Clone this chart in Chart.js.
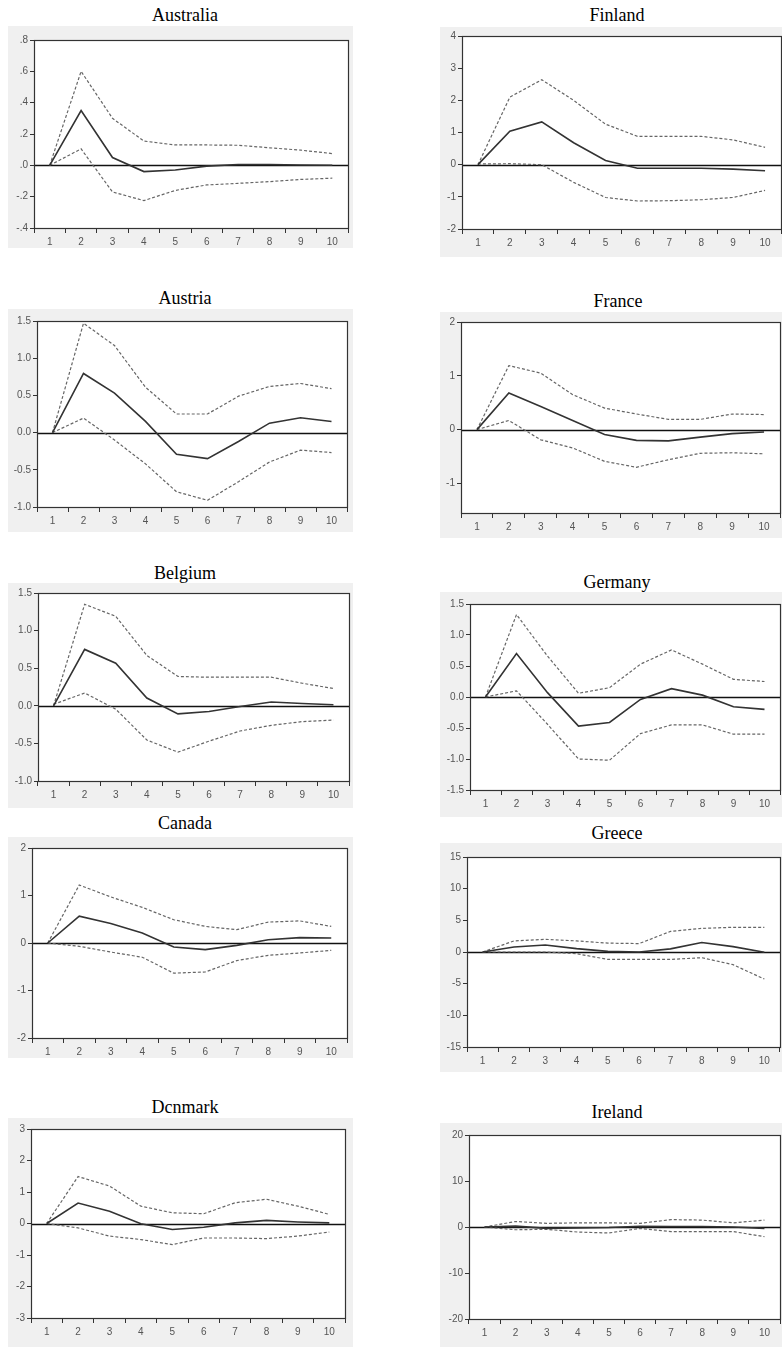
<!DOCTYPE html>
<html>
<head>
<meta charset="utf-8">
<script src="https://cdn.jsdelivr.net/npm/chart.js@4.4.1/dist/chart.umd.min.js"></script>
<style>
  body { margin: 0; background: #fff; width: 782px; height: 1347px; position: relative; overflow: hidden; }
  .title { position: absolute; width: 240px; margin-left: -120px; text-align: center; font-weight: normal;
           font-family: "Liberation Serif", "Times New Roman", serif; font-size: 18px; color: #000; line-height: 20px; }
  canvas { position: absolute; background: #f0f0f0; }
</style>
</head>
<body>
<script>
// horizon (periods after the shock)
const periods = ['1', '2', '3', '4', '5', '6', '7', '8', '9', '10']

// response / upper band / lower band
const australiaIrf   = [0, 0.35, 0.05, -0.04, -0.03, -0.005, 0.005, 0.005, 0.002, 0.001]
const australiaUpper = [0, 0.60, 0.30, 0.155, 0.13, 0.13, 0.128, 0.112, 0.097, 0.075]
const australiaLower = [0, 0.105, -0.17, -0.225, -0.16, -0.125, -0.115, -0.104, -0.09, -0.082]

const finlandIrf   = [0, 1.04, 1.33, 0.68, 0.13, -0.11, -0.11, -0.11, -0.14, -0.19]
const finlandUpper = [0, 2.1, 2.64, 2.0, 1.26, 0.88, 0.88, 0.88, 0.77, 0.54]
const finlandLower = [0.02, 0.03, 0.0, -0.55, -1.02, -1.13, -1.12, -1.09, -1.02, -0.8]

const austriaIrf   = [0, 0.795, 0.53, 0.15, -0.29, -0.35, -0.12, 0.127, 0.2, 0.15]
const austriaUpper = [0, 1.47, 1.17, 0.61, 0.25, 0.25, 0.49, 0.62, 0.66, 0.59]
const austriaLower = [0, 0.195, -0.1, -0.42, -0.795, -0.91, -0.66, -0.395, -0.236, -0.268]

const franceIrf   = [0, 0.68, 0.43, 0.17, -0.09, -0.2, -0.21, -0.14, -0.075, -0.045]
const franceUpper = [0, 1.19, 1.05, 0.65, 0.40, 0.29, 0.19, 0.19, 0.29, 0.28]
const franceLower = [0, 0.17, -0.19, -0.34, -0.59, -0.70, -0.56, -0.44, -0.43, -0.45]

const belgiumIrf   = [0, 0.75, 0.567, 0.103, -0.107, -0.076, -0.01, 0.05, 0.03, 0.013]
const belgiumUpper = [0, 1.35, 1.19, 0.67, 0.39, 0.38, 0.38, 0.38, 0.30, 0.23]
const belgiumLower = [0.02, 0.17, -0.045, -0.455, -0.616, -0.47, -0.335, -0.26, -0.21, -0.19]

const germanyIrf   = [0, 0.70, 0.07, -0.47, -0.41, -0.04, 0.134, 0.03, -0.156, -0.2]
const germanyUpper = [0, 1.33, 0.66, 0.06, 0.15, 0.53, 0.76, 0.53, 0.285, 0.25]
const germanyLower = [0, 0.1, -0.44, -1.0, -1.02, -0.59, -0.45, -0.45, -0.60, -0.6]

const canadaIrf   = [0, 0.565, 0.41, 0.21, -0.085, -0.14, -0.05, 0.07, 0.113, 0.106]
const canadaUpper = [0, 1.22, 0.97, 0.75, 0.49, 0.35, 0.28, 0.44, 0.465, 0.35]
const canadaLower = [0, -0.07, -0.19, -0.30, -0.635, -0.61, -0.37, -0.26, -0.21, -0.155]

const greeceIrf   = [0, 0.8, 1.1, 0.53, 0.1, 0, 0.5, 1.5, 0.85, -0.05]
const greeceUpper = [0, 1.75, 2.0, 1.75, 1.4, 1.33, 3.25, 3.73, 3.9, 3.9]
const greeceLower = [0, 0, 0, -0.27, -1.17, -1.17, -1.17, -0.9, -2.0, -4.27]

const denmarkIrf   = [0, 0.65, 0.39, -0.01, -0.19, -0.12, 0.02, 0.1, 0.05, 0.02]
const denmarkUpper = [0, 1.49, 1.19, 0.55, 0.34, 0.31, 0.66, 0.77, 0.55, 0.29]
const denmarkLower = [0, -0.14, -0.40, -0.51, -0.67, -0.46, -0.46, -0.48, -0.40, -0.27]

const irelandIrf   = [0, 0.2, -0.3, -0.2, -0.1, 0.15, 0.1, 0.1, 0, -0.3]
const irelandUpper = [0, 1.2, 0.8, 0.9, 0.9, 0.8, 1.6, 1.5, 0.9, 1.5]
const irelandLower = [0, -0.6, -0.5, -1.1, -1.3, -0.3, -1.0, -1.0, -1.0, -2.1]

// y axis ticks and their printed labels
const australiaTicks = [0.8, 0.6, 0.4, 0.2, 0, -0.2, -0.4]
const australiaLabels = ['.8', '.6', '.4', '.2', '.0', '-.2', '-.4']
const halfTicks = [1.5, 1.0, 0.5, 0, -0.5, -1.0, -1.5]
const halfLabels = ['1.5', '1.0', '0.5', '0.0', '-0.5', '-1.0', '-1.5']
const finlandTicks = [4, 3, 2, 1, 0, -1, -2]
const finlandLabels = ['4', '3', '2', '1', '0', '-1', '-2']
const franceTicks = [2, 1, 0, -1]
const franceLabels = ['2', '1', '0', '-1']
const canadaTicks = [2, 1, 0, -1, -2]
const canadaLabels = ['2', '1', '0', '-1', '-2']
const denmarkTicks = [3, 2, 1, 0, -1, -2, -3]
const denmarkLabels = ['3', '2', '1', '0', '-1', '-2', '-3']
const greeceTicks = [15, 10, 5, 0, -5, -10, -15]
const greeceLabels = ['15', '10', '5', '0', '-5', '-10', '-15']
const irelandTicks = [20, 10, 0, -10, -20]
const irelandLabels = ['20', '10', '0', '-10', '-20']

// where each panel sits: title centre, grey box, plot frame
const panels = [
  { title: 'Australia', irf: australiaIrf, up: australiaUpper, lo: australiaLower, ticks: australiaTicks, labels: australiaLabels,
    min: -0.4, max: 0.8, tx: 185, ty: 15, box: [8, 26, 353, 248], area: [34, 40, 348, 228] },
  { title: 'Finland', irf: finlandIrf, up: finlandUpper, lo: finlandLower, ticks: finlandTicks, labels: finlandLabels,
    min: -2, max: 4, tx: 617, ty: 15, box: [440, 27, 782, 257], area: [462, 36, 781, 229] },
  { title: 'Austria', irf: austriaIrf, up: austriaUpper, lo: austriaLower, ticks: halfTicks, labels: halfLabels,
    min: -1, max: 1.5, tx: 185, ty: 298, box: [8, 309, 353, 532], area: [37, 321, 347, 507] },
  { title: 'France', irf: franceIrf, up: franceUpper, lo: franceLower, ticks: franceTicks, labels: franceLabels,
    min: -1.55, max: 2, tx: 618, ty: 301, box: [440, 312, 782, 538], area: [461, 322, 780, 513] },
  { title: 'Belgium', irf: belgiumIrf, up: belgiumUpper, lo: belgiumLower, ticks: halfTicks, labels: halfLabels,
    min: -1, max: 1.5, tx: 185, ty: 573, box: [8, 583, 353, 808], area: [38, 593, 349, 781] },
  { title: 'Germany', irf: germanyIrf, up: germanyUpper, lo: germanyLower, ticks: halfTicks, labels: halfLabels,
    min: -1.5, max: 1.5, tx: 617, ty: 582, box: [440, 592, 782, 817], area: [470, 604, 780, 790] },
  { title: 'Canada', irf: canadaIrf, up: canadaUpper, lo: canadaLower, ticks: canadaTicks, labels: canadaLabels,
    min: -2, max: 2, tx: 185, ty: 823, box: [8, 837, 353, 1058], area: [32, 848, 347, 1038] },
  { title: 'Greece', irf: greeceIrf, up: greeceUpper, lo: greeceLower, ticks: greeceTicks, labels: greeceLabels,
    min: -15, max: 15, tx: 617, ty: 833, box: [440, 843, 782, 1072], area: [467, 857, 780, 1047] },
  { title: 'Dcnmark', irf: denmarkIrf, up: denmarkUpper, lo: denmarkLower, ticks: denmarkTicks, labels: denmarkLabels,
    min: -3, max: 3, tx: 185, ty: 1107, box: [8, 1118, 353, 1347], area: [31, 1129, 345, 1318] },
  { title: 'Ireland', irf: irelandIrf, up: irelandUpper, lo: irelandLower, ticks: irelandTicks, labels: irelandLabels,
    min: -20, max: 20, tx: 617, ty: 1112, box: [440, 1123, 782, 1347], area: [469, 1135, 780, 1319] },
]

Chart.defaults.font.family = '"Liberation Sans", Arial, sans-serif'
Chart.defaults.font.size = 10
Chart.defaults.color = '#555'

// white plot area, zero line and the box round it
const framePlugin = {
  id: 'frame',
  beforeDraw(chart) {
    const a = chart.chartArea, ctx = chart.ctx
    ctx.save()
    ctx.fillStyle = '#fff'
    ctx.fillRect(a.left, a.top, a.right - a.left, a.bottom - a.top)
    ctx.restore()
  },
  beforeDatasetsDraw(chart) {
    const a = chart.chartArea, ctx = chart.ctx
    const y0 = Math.round(chart.scales.y.getPixelForValue(0)) + 0.5
    ctx.save()
    ctx.strokeStyle = '#111'
    ctx.lineWidth = 1.3
    ctx.beginPath()
    ctx.moveTo(a.left, y0)
    ctx.lineTo(a.right, y0)
    ctx.stroke()
    ctx.restore()
  },
  afterDraw(chart) {
    const a = chart.chartArea, ctx = chart.ctx
    ctx.save()
    ctx.strokeStyle = '#333'
    ctx.lineWidth = 1.2
    ctx.strokeRect(Math.round(a.left) + 0.5, Math.round(a.top) + 0.5,
      Math.round(a.right - a.left), Math.round(a.bottom - a.top))
    ctx.restore()
  }
}

function bandLine(values) {
  return { data: values, borderColor: '#666', borderWidth: 1.2, borderDash: [3, 2],
           pointRadius: 0, tension: 0, fill: false }
}

for (const p of panels) {
  const [bx0, by0, bx1, by1] = p.box
  const [l, t, r, b] = p.area

  const title = document.createElement('div')
  title.className = 'title'
  title.textContent = p.title
  title.style.left = p.tx + 'px'
  title.style.top = (p.ty - 10) + 'px'
  document.body.appendChild(title)

  const canvas = document.createElement('canvas')
  canvas.width = bx1 - bx0
  canvas.height = by1 - by0
  canvas.style.left = bx0 + 'px'
  canvas.style.top = by0 + 'px'
  document.body.appendChild(canvas)

  new Chart(canvas, {
    type: 'line',
    data: {
      labels: periods,
      datasets: [
        { data: p.irf, borderColor: '#333', borderWidth: 1.6, pointRadius: 0, tension: 0, fill: false },
        bandLine(p.up),
        bandLine(p.lo)
      ]
    },
    options: {
      responsive: false,
      animation: false,
      devicePixelRatio: 1,
      layout: { padding: { top: t - by0, right: bx1 - r, left: 0, bottom: 0 } },
      plugins: { legend: { display: false }, tooltip: { enabled: false }, title: { display: false } },
      scales: {
        x: {
          offset: true,
          grid: { offset: true, drawOnChartArea: false, drawTicks: true, tickLength: 5, color: '#333', lineWidth: 1 },
          border: { display: true, color: '#333' },
          ticks: { autoSkip: false, maxRotation: 0, padding: 3, color: '#555' },
          afterFit(scale) { scale.height = by1 - b }
        },
        y: {
          min: p.min,
          max: p.max,
          grid: { drawOnChartArea: false, drawTicks: true, tickLength: 4, color: '#333', lineWidth: 1 },
          border: { display: true, color: '#333' },
          afterBuildTicks(scale) {
            scale.ticks = p.ticks.slice().sort((u, v) => u - v).map(v => ({ value: v }))
          },
          ticks: {
            padding: 2,
            color: '#555',
            callback(value) {
              const i = p.ticks.findIndex(v => Math.abs(v - value) < 1e-9)
              return i >= 0 ? p.labels[i] : ''
            }
          },
          afterFit(scale) { scale.width = l - bx0 }
        }
      }
    },
    plugins: [framePlugin]
  })
}
</script>
</body>
</html>
